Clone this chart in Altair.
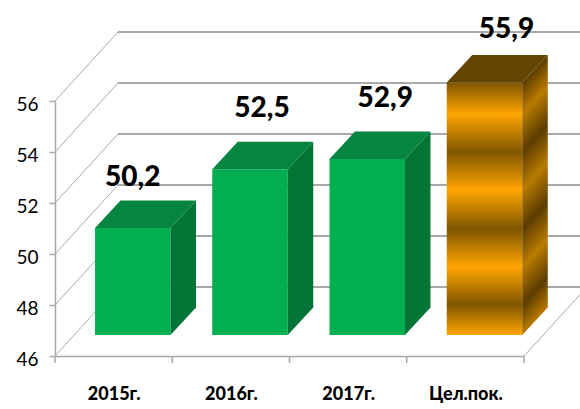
import altair as alt
import pandas as pd

categories = ["2015г.", "2016г.", "2017г.", "Цел.пок."]
values = [50.2, 52.5, 52.9, 55.9]
y_ticks = [46, 48, 50, 52, 54, 56]
x_ticks = [0, 1, 2, 3, 4]

# Pixel sizes of the oblique projection, converted to scale units below.
PLOT_W, PLOT_H = 469, 255
PX_X = 4 / PLOT_W
PX_Y = 10 / PLOT_H
WALL_DX, WALL_DY = 63 * PX_X, 69 * PX_Y
BAR_DX, BAR_DY = 25.5 * PX_X, 27.5 * PX_Y
BAR_INSET, BAR_W = 40 * PX_X, 75.5 * PX_X
BAR_BASE = 46 + 21 * PX_Y

# Value label shift from the centre of each front face, in pixels.
LABEL_SHIFT = {0: (0, 42), 1: (12, 52), 2: (18, 52), 3: (22, 45)}

FONT = "Lato"
GRID = "#a9a9a9"
GREEN_FRONT, GREEN_TOP, GREEN_SIDE = "#00b050", "#05853f", "#037537"
GOLD_LIGHT, GOLD_DARK = "#ffa500", "#7f5500"
GOLD_SIDE_LIGHT, GOLD_SIDE_DARK = "#b97a00", "#5c3d00"

front, side, top, labels = [], [], [], []
for i, (cat, v) in enumerate(zip(categories, values)):
    left = i + BAR_INSET
    right = left + BAR_W
    head = BAR_BASE + v - 46
    front.append(dict(bar=i, left=left, right=right, base=BAR_BASE, top=head))
    side.append(dict(bar=i, x=right, y=head, y2=BAR_BASE))
    side.append(dict(bar=i, x=right + BAR_DX, y=head + BAR_DY, y2=BAR_BASE + BAR_DY))
    top.append(dict(bar=i, y=head, x=left, x2=right))
    top.append(dict(bar=i, y=head + BAR_DY, x=left + BAR_DX, x2=right + BAR_DX))
    sx, sy = LABEL_SHIFT[i]
    labels.append(dict(x=left + BAR_W / 2 + sx * PX_X, y=head + sy * PX_Y,
                       text=f"{v:.1f}".replace(".", ",")))

front, side, top, labels = map(pd.DataFrame, (front, side, top, labels))

x_scale = alt.Scale(domain=[0, 4], nice=False, zero=False)
y_scale = alt.Scale(domain=[46, 56], nice=False, zero=False)
label_lookup = "{" + ",".join(f"'{i + 0.5}':'{c}'" for i, c in enumerate(categories)) + "}"

x_axis = alt.Axis(
    values=[i + 0.5 for i in range(len(categories))],
    labelExpr=f"{label_lookup}[datum.value]",
    ticks=False, grid=False, domainColor=GRID, domainWidth=1.5,
    labelFont=FONT, labelFontSize=18, labelFontWeight=900, labelColor="#000000",
    labelPadding=29, labelOverlap=False, title=None)
y_axis = alt.Axis(
    values=y_ticks, grid=False, tickColor=GRID, tickSize=6, tickWidth=1.5,
    domainColor=GRID, domainWidth=1.5, labelOffset=3,
    labelFont=FONT, labelFontSize=19, labelColor="#000000", labelPadding=11, title=None)


def x_enc(field="x"):
    return alt.X(f"{field}:Q", scale=x_scale, axis=x_axis)


def y_enc(field="y"):
    return alt.Y(f"{field}:Q", scale=y_scale, axis=y_axis)


# Floor and back wall: oblique lines from each tick, then the horizontals behind them.
walls = pd.DataFrame([dict(x=0, x2=WALL_DX, y=t, y2=t + WALL_DY) for t in y_ticks]
                     + [dict(x=4, x2=4 + WALL_DX, y=46, y2=46 + WALL_DY)])
wall_lines = alt.Chart(walls).mark_rule(color=GRID, strokeWidth=1).encode(
    x=x_enc(), x2="x2:Q", y=y_enc(), y2="y2:Q")
back = pd.DataFrame([dict(x=WALL_DX, x2=4 + WALL_DX, y=t + WALL_DY) for t in y_ticks])
back_lines = alt.Chart(back).mark_rule(color=GRID, strokeWidth=1.8).encode(
    x=x_enc(), x2="x2:Q", y=y_enc())

# Short ticks at the slot edges under the floor line.
tick_frame = pd.DataFrame(dict(x=x_ticks, y=[46] * 5, y2=[46 - 7 * PX_Y] * 5))
x_tick_marks = alt.Chart(tick_frame).mark_rule(color=GRID, strokeWidth=1.5).encode(
    x=x_enc(), y=y_enc(), y2="y2:Q")

band_offsets = [0.00, 0.125, 0.275, 0.425, 0.58, 0.73, 0.88, 1.00]
front_fill = alt.Gradient(
    gradient="linear", x1=0, y1=0, x2=0, y2=1,
    stops=[alt.GradientStop(offset=o, color=GOLD_LIGHT if k % 2 else GOLD_DARK)
           for k, o in enumerate(band_offsets)])

# Side face bands follow the depth slope; offsets are along the sheared face.
side_h = (55.9 - 46) / PX_Y + 27.5
a = 27.5 / side_h
side_fill = alt.Gradient(
    gradient="linear", x1=0, y1=0, x2=a / (1 + a * a), y2=1 / (1 + a * a),
    stops=[alt.GradientStop(offset=0, color=GOLD_SIDE_DARK)]
    + [alt.GradientStop(offset=a + o * (1 - a), color=GOLD_SIDE_LIGHT if k % 2 else GOLD_SIDE_DARK)
       for k, o in enumerate(band_offsets)])

is_gold = "datum.bar == 3"
is_green = "datum.bar != 3"


def faces(test, front_color, side_color, top_color):
    f = alt.Chart(front).transform_filter(test).mark_rect(fill=front_color).encode(
        x=x_enc("left"), x2="right:Q", y=y_enc("base"), y2="top:Q")
    s = alt.Chart(side).transform_filter(test).mark_area(fill=side_color, orient="vertical").encode(
        x=x_enc(), y=y_enc(), y2="y2:Q", detail="bar:N")
    t = alt.Chart(top).transform_filter(test).mark_area(fill=top_color, orient="horizontal").encode(
        y=y_enc(), x=x_enc(), x2="x2:Q", detail="bar:N")
    return [f, s, t]


value_text = alt.Chart(labels).mark_text(
    font=FONT, fontSize=28, fontWeight=900, color="#000000", baseline="alphabetic"
).encode(x=x_enc(), y=y_enc(), text="text:N")

chart = alt.layer(
    wall_lines, back_lines, x_tick_marks,
    *faces(is_green, GREEN_FRONT, GREEN_SIDE, GREEN_TOP),
    *faces(is_gold, front_fill, side_fill, "#654500"),
    value_text,
).properties(
    width=PLOT_W, height=PLOT_H,
    padding={"left": 55, "top": 101, "right": 56, "bottom": 53},
    autosize=alt.AutoSizeParams(type="none"),
    background="#ffffff",
).configure_view(stroke=None)

chart.save("out.html", embed_options={"renderer": "svg", "actions": False})
